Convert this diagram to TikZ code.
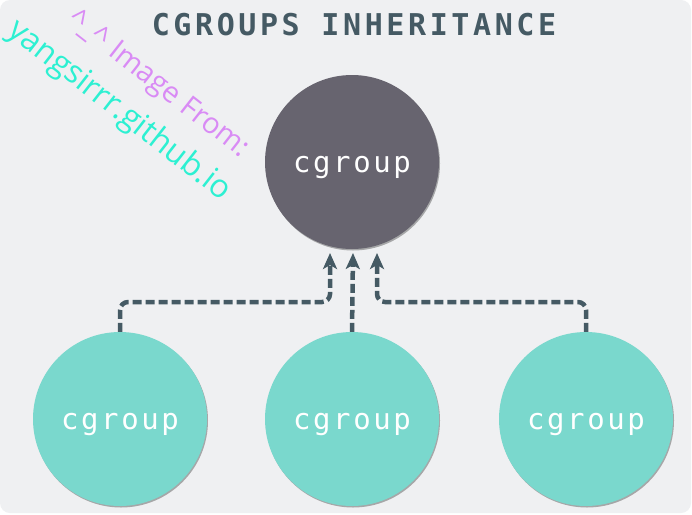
\documentclass[tikz,border=0pt]{standalone}
\usepackage{fontspec}
\usetikzlibrary{arrows.meta,shadows}
\newfontfamily\titlefont[LetterSpace=12]{DejaVu Sans Mono}
\newfontfamily\nodefont[LetterSpace=9]{DejaVu Sans Mono}
\newfontfamily\markfont{Open Sans}
\definecolor{bgc}{HTML}{EFF0F2}
\definecolor{darkc}{HTML}{67646F}
\definecolor{tealc}{HTML}{7AD8CD}
\definecolor{slatec}{HTML}{455A64}
\definecolor{cyanc}{HTML}{2DF0D2}
\definecolor{violc}{HTML}{D98BF5}
\newcommand{\cglabel}{\raisebox{-10pt}[0pt][0pt]{cgroup}}
\tikzset{
  ball/.style={circle, minimum size=174pt, inner sep=0pt, text=white,
    font=\nodefont\fontsize{29}{29}\selectfont,
    drop shadow={shadow xshift=1pt, shadow yshift=-1.5pt, opacity=.3, fill=black}},
  topball/.style={ball, fill=darkc},
  subball/.style={ball, fill=tealc},
  conn/.style={draw=slatec, line width=4.5pt, dash pattern=on 9pt off 4pt,
    rounded corners=8pt, -{Stealth[length=16pt, width=14pt, inset=4pt]}},
}
\begin{document}
\begin{tikzpicture}[x=1pt,y=-1pt]
\useasboundingbox (0,0) rectangle (692,514);
\fill[white] (0,0) rectangle (692,514);
\fill[bgc, rounded corners=10pt] (0,0) rectangle (691,513);
\node[anchor=base, text=slatec, font=\titlefont\bfseries\fontsize{30}{30}\selectfont] (title) at (354,35) {CGROUPS INHERITANCE};
\node[topball] (t) at (352,162) {\cglabel};
\node[subball] (b1) at (120,419) {\cglabel};
\node[subball] (b2) at (352,419) {\cglabel};
\node[subball] (b3) at (586,419) {\cglabel};
\coordinate (e1) at (330,253);
\coordinate (e2) at (353,253);
\coordinate (e3) at (377,253);
\draw[conn] (b1.north) -- (120,302) -- (330,302) -- (e1);
\draw[conn] (b2.north) -- (e2);
\draw[conn] (b3.north) -- (586,302) -- (377,302) -- (e3);
\node[anchor=base west, rotate=-38, inner sep=0pt, text=violc, font=\markfont\fontsize{29}{29}\selectfont] (w1) at (66,22) {\^{}\_\^{} Image From:};
\node[anchor=base west, rotate=-38, inner sep=0pt, text=cyanc, font=\markfont\fontsize{32}{32}\selectfont] (w2) at (6,33) {yangsirrr.github.io};
\end{tikzpicture}
\end{document}
